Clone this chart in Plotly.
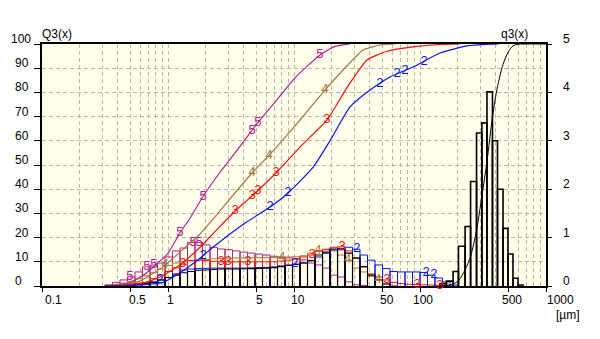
import numpy as np
import plotly.graph_objects as go

FONT = "Liberation Sans, Arial, sans-serif"

# ---------------------------------------------------------------- data
# fine size classes (µm) used by the q3 histograms of samples 2-5
fine_edges = [0.316, 0.363, 0.416, 0.477, 0.547, 0.627, 0.720, 0.825, 0.947, 1.086,
              1.245, 1.428, 1.638, 1.879, 2.154, 2.471, 2.834, 3.250, 3.728, 4.275,
              4.904, 5.624, 6.450, 7.398, 8.485, 9.731, 11.16, 12.80, 14.68, 16.84,
              19.31, 22.15, 25.40, 29.13, 33.41, 38.32, 43.95, 50.41, 57.81, 66.30,
              76.04, 87.21, 100.0, 114.7, 131.5, 150.9, 173.0, 198.4]

# density distributions q3 (per class, right axis)
q3_s5 = [0.025, 0.075, 0.125, 0.19, 0.29, 0.395, 0.435, 0.475, 0.6, 0.725,
         0.785, 0.9, 0.9, 0.85, 0.8, 0.765, 0.75, 0.725, 0.7, 0.68,
         0.66, 0.64, 0.615, 0.6, 0.58, 0.565, 0.54, 0.475, 0.435, 0.37,
         0.225, 0.185, 0.085, 0.025, 0.01]
q3_s4 = [0.01, 0.025, 0.06, 0.1, 0.15, 0.21, 0.275, 0.35, 0.425, 0.475,
         0.51, 0.53, 0.54, 0.55, 0.56, 0.565, 0.575, 0.58, 0.58, 0.585,
         0.585, 0.585, 0.585, 0.59, 0.6, 0.605, 0.625, 0.68, 0.725, 0.745,
         0.725, 0.64, 0.535, 0.37, 0.29, 0.2, 0.125, 0.04, 0.015]
q3_s3 = [0.01, 0.02, 0.035, 0.05, 0.06, 0.075, 0.15, 0.225, 0.3, 0.375,
         0.45, 0.525, 0.535, 0.525, 0.51, 0.5, 0.5, 0.5, 0.5, 0.5,
         0.5, 0.5, 0.5, 0.515, 0.535, 0.56, 0.6, 0.64, 0.725, 0.76,
         0.8, 0.81, 0.725, 0.58, 0.395, 0.25, 0.185, 0.125, 0.075, 0.05,
         0.035, 0.03, 0.025, 0.02, 0.015, 0.01]
q3_s2 = [0.005, 0.01, 0.015, 0.025, 0.04, 0.06, 0.085, 0.125, 0.175, 0.25,
         0.33, 0.35, 0.36, 0.365, 0.37, 0.37, 0.37, 0.37, 0.37, 0.375,
         0.38, 0.385, 0.395, 0.415, 0.435, 0.45, 0.475, 0.525, 0.6, 0.675,
         0.745, 0.775, 0.8, 0.76, 0.64, 0.535, 0.435, 0.36, 0.3, 0.29,
         0.29, 0.29, 0.28, 0.225, 0.165, 0.085, 0.02]
q3_fine_black = [0, 0, 0, 0.015, 0.03, 0.05, 0.075, 0.125, 0.175, 0.225,
                 0.275, 0.3, 0.325, 0.33, 0.34, 0.35, 0.35, 0.35, 0.355, 0.36,
                 0.365, 0.37, 0.38, 0.4, 0.425, 0.45, 0.475, 0.525, 0.64, 0.7,
                 0.765, 0.75, 0.68, 0.575, 0.4, 0.225, 0.125, 0.04]

# coarse sample: classes (µm) and q3
coarse_edges = [144, 162, 183, 202, 228, 252, 281, 310, 340, 376, 412, 456, 499,
                547, 600, 657]
q3_coarse = [0.05, 0.1, 0.3, 0.82, 1.23, 2.16, 3.16, 3.37, 4.01, 3.0, 2.0, 1.19,
             0.66, 0.16, 0.02]

# cumulative distributions Q3 (%, left axis)
Q3_s2_x = [0.316, 0.499, 0.913, 1.245, 1.795, 2.276, 3.105, 4.236, 6.449, 8.799,
           14.15, 19.31, 27.82, 40.11, 57.8, 88.0, 144.1, 236.1, 359.4, 420]
Q3_s2 = [0, 0.2, 1.5, 5.5, 11.5, 16, 21.5, 26.5, 32.6, 38,
         49, 60, 74, 81, 86.4, 90.5, 96.3, 99.2, 99.9, 100]
Q3_s3_x = [0.316, 0.416, 0.633, 0.864, 1.245, 1.795, 2.361, 3.402, 4.903, 7.197,
           11.16, 18.27, 26.34, 37.96, 54.7, 88.0, 144.1, 207.7]
Q3_s3 = [0, 0.3, 1.2, 3.7, 8.7, 16, 22.5, 31, 38.3, 46.7,
         57.4, 68.6, 82, 93.4, 97, 98.8, 99.8, 100]
Q3_s4_x = [0.316, 0.416, 0.5995, 0.913, 1.245, 1.795, 2.587, 3.105, 4.642, 6.333,
           7.743, 11.16, 16.99, 26.34, 35.28, 48.13, 63.33]
Q3_s4 = [0, 0.5, 2, 8, 14, 21.5, 31, 36, 46.7, 54,
         59, 68.6, 80, 91, 97.5, 99.6, 100]
Q3_s5_x = [0.316, 0.416, 0.499, 0.633, 0.788, 1.0, 1.245, 1.495, 1.896, 2.587,
           3.528, 4.903, 7.067, 10.18, 16.08, 21.16, 27.82]
Q3_s5 = [0, 0.6, 1.5, 4.3, 8.5, 13.5, 22, 28, 37, 47,
         56, 66, 76, 86, 95.5, 99, 100]

# sizes (µm) where the sample numbers are written on the curves / histograms
lab_cum = {
    "2": [1.896, 6.449, 8.96, 48.1, 65.7, 76.0, 107.6],
    "3": [3.402, 4.642, 5.179, 7.197, 18.27],
    "4": [0.947, 4.642, 6.333, 17.62],
    "5": [1.245, 1.896, 4.642, 5.179, 16.08],
}
lab_hist = {
    "2": [0.864, 10.18, 31.6, 111.6, 129.1],
    "3": [1.315, 2.634, 2.994, 4.314, 13.9, 24.04, 54.7, 94.7, 144.1],
    "4": [8.03, 15.5, 26.6, 46.4],
    "5": [0.499, 0.681, 0.774, 1.579, 1.762],
}

x_ticks = [0.1, 0.5, 1, 5, 10, 50, 100, 500, 1000]
x_tick_text = ["0.1", "0.5", "1", "5", "10", "50", "100", "500", "1000"]
Q_ticks = [0, 10, 20, 30, 40, 50, 60, 70, 80, 90, 100]
q_ticks = [0, 1, 2, 3, 4, 5]

# ---------------------------------------------------------------- style
COL = {"2": "#0A14F0", "3": "#F01010", "4": "#A8743A", "5": "#B0208F"}
GRID = "#BDB7A0"
BG = "#FFFFEB"

# plot-area pixel geometry (used only to place the text labels)
L, R, T, B = 42, 546, 44, 286
W, H = R - L, B - T

hist = {"2": q3_s2, "3": q3_s3, "4": q3_s4, "5": q3_s5}
cum = {"2": (Q3_s2_x, Q3_s2), "3": (Q3_s3_x, Q3_s3),
       "4": (Q3_s4_x, Q3_s4), "5": (Q3_s5_x, Q3_s5)}


def rect_path(edges, heights):
    xs, ys = [], []
    for i, h in enumerate(heights):
        if h <= 0:
            continue
        x0, x1 = edges[i], edges[i + 1]
        xs += [x0, x0, x1, x1, None]
        ys += [0, h, h, 0, None]
    return xs, ys


fig = go.Figure()

# histograms (right axis q3)
for s in ["5", "4", "3", "2"]:
    xs, ys = rect_path(fine_edges, hist[s])
    fig.add_trace(go.Scatter(x=xs, y=ys, mode="lines", yaxis="y2",
                             line=dict(color=COL[s], width=1), hoverinfo="skip"))

xs, ys = rect_path(fine_edges, q3_fine_black)
fig.add_trace(go.Scatter(x=xs, y=ys, mode="lines", yaxis="y2",
                         line=dict(color="black", width=1.1), hoverinfo="skip"))
xs, ys = rect_path(coarse_edges, q3_coarse)
fig.add_trace(go.Scatter(x=xs, y=ys, mode="lines", yaxis="y2",
                         line=dict(color="black", width=1.6), hoverinfo="skip"))

# sample numbers on the histograms
for s in ["5", "4", "3", "2"]:
    xl = np.array(lab_hist[s])
    idx = np.searchsorted(fine_edges, xl, side="right") - 1
    yl = [hist[s][i] for i in idx]
    fig.add_trace(go.Scatter(x=xl, y=yl, mode="text", yaxis="y2", text=[s] * len(xl),
                             textfont=dict(family=FONT, size=13, color=COL[s]),
                             cliponaxis=False, hoverinfo="skip"))

# cumulative curves (left axis Q3)
for s in ["5", "4", "3", "2"]:
    cx, cq = cum[s]
    fig.add_trace(go.Scatter(x=cx, y=cq, mode="lines", yaxis="y",
                             line=dict(color=COL[s], width=1.2, shape="spline", smoothing=0.5),
                             hoverinfo="skip"))

# cumulative of the coarse sample, integrated from its q3 histogram
lw = np.diff(np.log10(coarse_edges))
mass = np.array(q3_coarse) * lw
cum_coarse = np.concatenate([[0.0], np.cumsum(mass)]) / mass.sum() * 100
fig.add_trace(go.Scatter(x=list(coarse_edges) + [1000], y=list(cum_coarse) + [100],
                         mode="lines", yaxis="y",
                         line=dict(color="black", width=1, shape="spline", smoothing=0.8),
                         hoverinfo="skip"))

# sample numbers on the cumulative curves
for s in ["5", "4", "3", "2"]:
    cx, cq = cum[s]
    xl = np.array(lab_cum[s])
    yl = np.interp(np.log10(xl), np.log10(cx), cq)
    fig.add_trace(go.Scatter(x=xl, y=yl, mode="text", yaxis="y", text=[s] * len(xl),
                             textfont=dict(family=FONT, size=13, color=COL[s]),
                             cliponaxis=False, hoverinfo="skip"))

# ---------------------------------------------------------------- axes
minor_vals = [m * 10.0 ** k for k in range(-1, 3) for m in range(1, 10)] + [1000]

fig.update_layout(
    width=600, height=339, autosize=False,
    margin=dict(l=L, r=600 - R, t=T, b=339 - B, pad=0),
    paper_bgcolor="white", plot_bgcolor=BG, showlegend=False,
    font=dict(family=FONT, size=12, color="black"),
    xaxis=dict(type="log", range=[-1, 3], tickmode="array", tickvals=x_ticks,
               showticklabels=False, ticks="outside", ticklen=4, tickwidth=1,
               tickcolor="black", showgrid=True, gridcolor=GRID, griddash="4px,3px",
               gridwidth=1,
               minor=dict(tickmode="array", tickvals=minor_vals, showgrid=True,
                          gridcolor=GRID, griddash="4px,3px", gridwidth=1, ticks=""),
               showline=True, linecolor="black", linewidth=2, mirror=True,
               zeroline=False, layer="below traces"),
    yaxis2=dict(range=[0, 5], side="right", anchor="x", tickmode="array",
                tickvals=q_ticks, ticks="outside", ticklen=5, tickcolor="black",
                showticklabels=False, showgrid=False, zeroline=False, showline=False),
    yaxis=dict(range=[0, 100], overlaying="y2", side="left", tickmode="array",
               tickvals=Q_ticks, ticks="outside", ticklen=6, tickcolor="black",
               showticklabels=False, showgrid=True, gridcolor=GRID,
               griddash="4px,3px", gridwidth=1, showline=True, linecolor="black",
               linewidth=1.5, mirror=True, zeroline=False, layer="below traces"),
)

ann = []
# x tick labels
x_label_shift = [11.5, 7, 2, 3.5, 3.5, 5, 3, 4, 14]
for v, t, dx in zip(x_ticks, x_tick_text, x_label_shift):
    ann.append(dict(x=np.log10(v), xref="x", y=0, yref="paper", text=t,
                    showarrow=False, xanchor="center", yanchor="middle",
                    xshift=dx, yshift=-14, font=dict(size=12)))
# left Q3 labels
for v in Q_ticks:
    px = 9 if v == 100 else 13
    ann.append(dict(x=(px - L) / W, xref="paper", y=v, yref="y", text=str(v),
                    showarrow=False, xanchor="left", yanchor="middle", yshift=5,
                    font=dict(size=12)))
# right q3 labels
for v in q_ticks:
    ann.append(dict(x=(561 - L) / W, xref="paper", y=v, yref="y2", text=str(v),
                    showarrow=False, xanchor="left", yanchor="middle", yshift=5,
                    font=dict(size=12)))
# axis titles
ann.append(dict(x=(57 - L) / W, xref="paper", y=1 + (T - 34) / H, yref="paper",
                text="Q3(x)", showarrow=False, xanchor="center", yanchor="middle",
                font=dict(size=12)))
ann.append(dict(x=(514.5 - L) / W, xref="paper", y=1 + (T - 34) / H, yref="paper",
                text="q3(x)", showarrow=False, xanchor="center", yanchor="middle",
                font=dict(size=12)))
ann.append(dict(x=(568 - L) / W, xref="paper", y=-(315 - B) / H, yref="paper",
                text="[µm]", showarrow=False, xanchor="center", yanchor="middle",
                font=dict(size=12)))
fig.update_layout(annotations=ann)

fig.write_html("out.html")
